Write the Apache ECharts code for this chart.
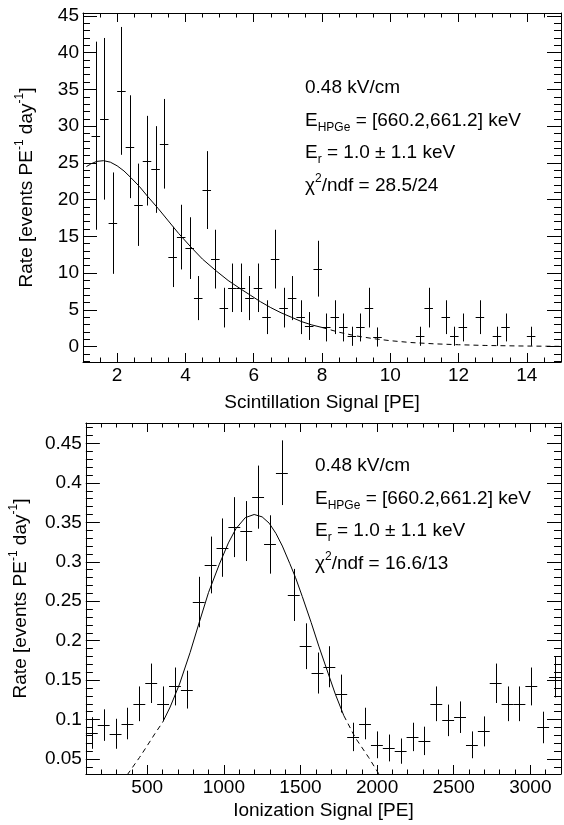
<!DOCTYPE html>
<html><head><meta charset="utf-8">
<script src="https://cdn.jsdelivr.net/npm/echarts@6/dist/echarts.min.js"></script>
<style>html,body{margin:0;padding:0;background:#fff}#c{width:564px;height:825px}</style>
</head><body><div id="c"></div>
<script>
// ---------- Top panel: Scintillation Signal ----------
const scintBinWidth = 0.25;
const scintX = [1.375,1.625,1.875,2.125,2.375,2.625,2.875,3.125,3.375,3.625,3.875,4.125,4.375,4.625,4.875,5.125,5.375,5.625,5.875,6.125,6.375,6.625,6.875,7.125,7.375,7.625,7.875,8.125,8.375,8.625,8.875,9.125,9.375,9.625,10.875,11.125,11.625,11.875,12.125,12.625,13.125,13.375,14.125];
const scintRate = [28.7,31.0,16.8,34.8,27.2,19.3,25.3,24.1,27.6,12.2,14.9,13.4,6.6,21.3,11.9,5.3,8.0,8.0,6.6,8.0,4.0,11.9,5.3,6.6,4.0,2.8,10.6,2.6,4.0,2.6,1.4,2.6,5.3,1.3,1.4,5.3,4.0,1.4,2.6,4.0,1.4,2.6,1.4];
const scintErr = [12.8,11.0,6.9,8.7,7.0,5.6,6.1,5.9,6.1,4.1,4.4,4.2,3.0,5.3,4.0,2.7,3.3,3.3,3.0,3.3,2.3,4.0,2.7,3.0,2.3,1.9,3.8,1.9,2.3,1.9,1.3,1.9,2.7,1.3,1.3,2.7,2.3,1.3,1.9,2.3,1.3,1.9,1.3];
const scintFitLeftDashed = [[1.1,24.5],[1.25,24.9]];
const scintFitSolid = [[1.25,24.9],[1.4,25.2],[1.6,25.3],[1.8,25.1],[2.0,24.6],[2.2,23.9],[2.4,23.0],[2.65,21.8],[2.9,20.4],[3.2,18.8],[3.5,17.1],[3.8,15.4],[4.15,13.6],[4.5,11.9],[4.9,10.3],[5.25,9.0],[5.6,7.9],[5.9,7.0],[6.2,6.1],[6.5,5.3],[6.8,4.6],[7.1,4.0],[7.4,3.4],[7.7,2.95],[8.0,2.6]];
const scintFitDashed = [[8.0,2.6],[8.5,1.95],[9.0,1.45],[9.5,1.08],[10.0,0.8],[10.6,0.55],[11.3,0.37],[12.0,0.25],[12.8,0.15],[13.8,0.08],[15.0,0.03]];
const scintXTicks = [2,4,6,8,10,12,14];
const scintYTicks = [0,5,10,15,20,25,30,35,40,45];
const scintText = ['0.48 kV/cm','E{sub|HPGe} = [660.2,661.2] keV','E{sub|r} = 1.0 ± 1.1 keV','χ{sup|2}/ndf = 28.5/24'];

// ---------- Bottom panel: Ionization Signal ----------
const ionBinWidth = 77.5;
const ionX = [138.75,216.25,293.75,371.25,448.75,526.25,603.75,681.25,758.75,836.25,913.75,991.25,1068.75,1146.25,1223.75,1301.25,1378.75,1456.25,1533.75,1611.25,1688.75,1766.25,1843.75,1921.25,1998.75,2076.25,2153.75,2231.25,2308.75,2386.25,2463.75,2541.25,2618.75,2696.25,2773.75,2851.25,2928.75,3006.25,3083.75,3161.25];
const ionRate = [0.083,0.093,0.082,0.095,0.120,0.146,0.120,0.142,0.138,0.249,0.296,0.318,0.344,0.339,0.382,0.322,0.413,0.258,0.193,0.159,0.167,0.133,0.078,0.095,0.068,0.064,0.060,0.078,0.073,0.120,0.099,0.103,0.068,0.085,0.146,0.120,0.120,0.142,0.090,0.154];
const ionErr = [0.020,0.020,0.019,0.020,0.022,0.025,0.022,0.024,0.024,0.032,0.036,0.037,0.038,0.038,0.040,0.037,0.041,0.033,0.029,0.026,0.026,0.024,0.018,0.020,0.017,0.017,0.016,0.018,0.018,0.022,0.020,0.020,0.017,0.019,0.025,0.022,0.022,0.024,0.020,0.026];
const ionFitLeftDashed = [[370,0.030],[450,0.052],[494,0.065],[550,0.082],[602,0.097]];
const ionFitSolid = [[602,0.097],[650,0.116],[711,0.145],[780,0.185],[841,0.224],[900,0.261],[971,0.297],[1030,0.324],[1079,0.342],[1140,0.356],[1198,0.360],[1250,0.357],[1296,0.349],[1340,0.336],[1382,0.320],[1430,0.298],[1468,0.280],[1512,0.256],[1570,0.223],[1620,0.193],[1680,0.159],[1728,0.132],[1783,0.105]];
const ionFitDashed = [[1783,0.105],[1858,0.077],[1945,0.052],[2015,0.030]];
const ionXTicks = [500,1000,1500,2000,2500,3000];
const ionYTicks = [0.05,0.1,0.15,0.2,0.25,0.3,0.35,0.4,0.45];
const ionText = ['0.48 kV/cm','E{sub|HPGe} = [660.2,661.2] keV','E{sub|r} = 1.0 ± 1.1 keV','χ{sup|2}/ndf = 16.6/13'];

const yTitle = 'Rate [events PE{sup|-1} day{sup|-1}]';

// ---------- helpers ----------
const FONT = "'Liberation Sans', Arial, Helvetica, sans-serif";
function steps(a, b, s) { const o = []; for (let i = 0; a + i * s <= b + s * 1e-6; i++) o.push(+(a + i * s).toFixed(6)); return o; }
const rich = {
  sub: { fontSize: 12, fontFamily: FONT, color: '#000', verticalAlign: 'bottom', lineHeight: 12 },
  sup: { fontSize: 12, fontFamily: FONT, color: '#000', verticalAlign: 'top', lineHeight: 15 }
};

function axesFor(gi, p1, p2, min, max, majors, minors, majLen, minLen, name, nameGap, margin) {
  const base = { type: 'value', gridIndex: gi, min: min, max: max, splitLine: { show: false }, scale: true };
  const line = { show: true, onZero: false, lineStyle: { color: '#000', width: 1 } };
  const noLine = { show: false, onZero: false };
  const tick = (vals, len) => ({ show: true, inside: true, length: len, customValues: vals, lineStyle: { color: '#000', width: 1 } });
  return [
    Object.assign({}, base, { position: p1, axisLine: line, axisTick: tick(majors, majLen),
      axisLabel: { show: true, customValues: majors, margin: margin, fontSize: 19, fontFamily: FONT, color: '#000',
        formatter: function (v) { return String(+(+v).toFixed(6)); } },
      name: name, nameLocation: 'middle', nameGap: nameGap,
      nameTextStyle: { fontSize: 19, fontFamily: FONT, color: '#000', lineHeight: 26, rich: rich } }),
    Object.assign({}, base, { position: p1, axisLine: noLine, axisTick: tick(minors, minLen), axisLabel: { show: false } }),
    Object.assign({}, base, { position: p2, axisLine: line, axisTick: tick(majors, majLen), axisLabel: { show: false } }),
    Object.assign({}, base, { position: p2, axisLine: noLine, axisTick: tick(minors, minLen), axisLabel: { show: false } })
  ];
}

function errSeries(gi, xs, ys, es, bw) {
  return {
    type: 'custom', xAxisIndex: gi * 4, yAxisIndex: gi * 4, clip: true, silent: true,
    data: xs.map((x, i) => [x, ys[i], es[i]]),
    renderItem: function (params, api) {
      const x = api.value(0), y = api.value(1), e = api.value(2);
      const l = api.coord([x - bw / 2, y]), r = api.coord([x + bw / 2, y]);
      const t = api.coord([x, y + e]), b = api.coord([x, y - e]);
      const st = { stroke: '#000', lineWidth: 1 };
      const vx = Math.round(t[0]) + 0.5, hy = Math.round(l[1]) + 0.5;
      return { type: 'group', children: [
        { type: 'line', shape: { x1: l[0], y1: hy, x2: r[0], y2: hy }, style: st },
        { type: 'line', shape: { x1: vx, y1: t[1], x2: vx, y2: b[1] }, style: st }
      ] };
    }
  };
}
function fitSeries(gi, data, dashed) {
  return {
    type: 'line', xAxisIndex: gi * 4, yAxisIndex: gi * 4, data: data, symbol: 'none', silent: true,
    smooth: false, clip: true,
    lineStyle: { color: '#000', width: 1, type: dashed ? [5, 4] : 'solid' }
  };
}
function textBlock(x, ys, lines) {
  return lines.map((t, i) => ({
    type: 'text', x: x, y: ys[i], silent: true,
    style: { text: t, fontSize: 19, fontFamily: FONT, fill: '#000', lineHeight: 26, verticalAlign: 'middle', align: 'left',
      rich: { sub: rich.sub, sup: rich.sup } }
  }));
}

const grids = [
  { left: 83, top: 13, width: 478, height: 349 },
  { left: 83, top: 423, width: 478, height: 351 }
];

const xAxes = [].concat(
  axesFor(0, 'bottom', 'top', 1, 15, scintXTicks, steps(1.5, 14.5, 0.5), 9, 4.5, 'Scintillation Signal [PE]', 28, 4),
  axesFor(1, 'bottom', 'top', 100, 3200, ionXTicks, steps(200, 3100, 100), 9, 4.5, 'Ionization Signal [PE]', 24, 4)
);
const yAxes = [].concat(
  axesFor(0, 'left', 'right', -2.1, 45.4, scintYTicks, steps(-2, 45, 1), 14, 7, yTitle, 43, 4),
  axesFor(1, 'left', 'right', 0.031, 0.476, ionYTicks, steps(0.04, 0.47, 0.01), 14, 7, yTitle, 43, 4)
);

const chart = echarts.init(document.getElementById('c'), null, { renderer: 'canvas' });
chart.setOption({
  animation: false,
  backgroundColor: '#fff',
  grid: grids,
  xAxis: xAxes,
  yAxis: yAxes,
  series: [
    errSeries(0, scintX, scintRate, scintErr, scintBinWidth),
    fitSeries(0, scintFitLeftDashed, true),
    fitSeries(0, scintFitSolid, false),
    fitSeries(0, scintFitDashed, true),
    errSeries(1, ionX, ionRate, ionErr, ionBinWidth),
    fitSeries(1, ionFitLeftDashed, true),
    fitSeries(1, ionFitSolid, false),
    fitSeries(1, ionFitDashed, true)
  ],
  graphic: [].concat(
    textBlock(305, [88, 121, 153, 186], scintText),
    textBlock(315, [466, 499, 531, 564], ionText)
  )
});
</script></body></html>
